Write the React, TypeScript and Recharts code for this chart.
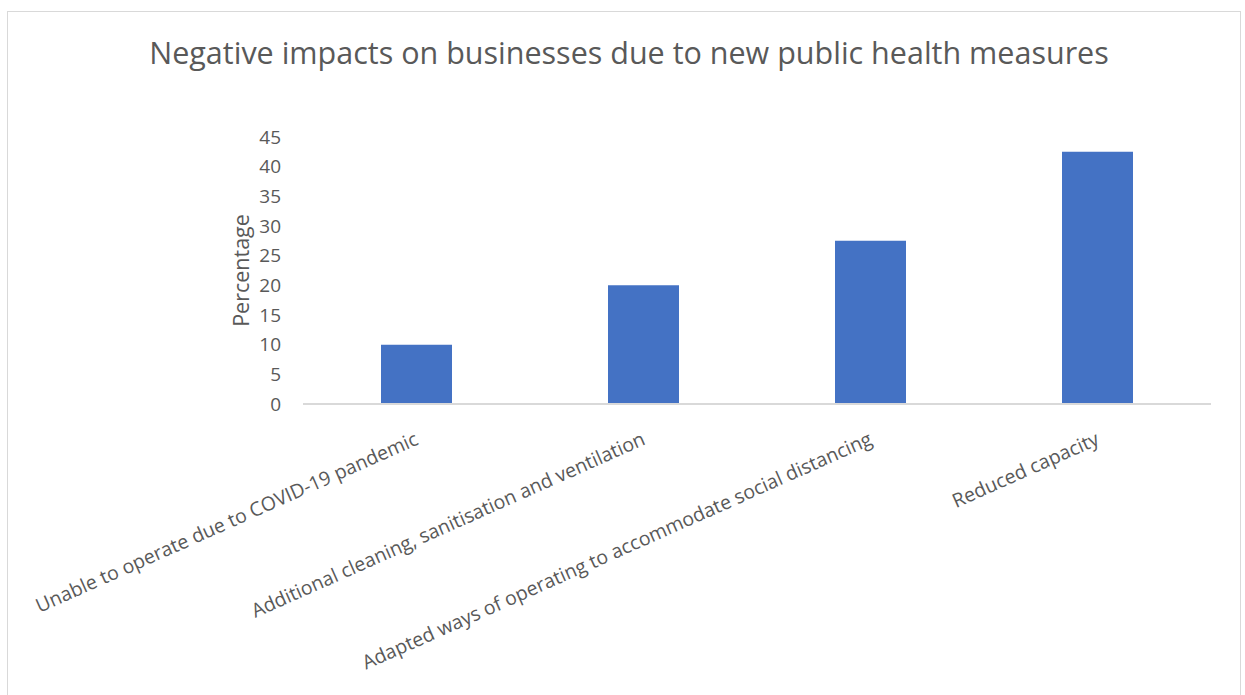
import { BarChart, Bar, XAxis, YAxis } from "recharts";

const categories = [
  "Unable to operate due to COVID-19 pandemic",
  "Additional cleaning, sanitisation and ventilation",
  "Adapted ways of operating to accommodate social distancing",
  "Reduced capacity",
];
const percentages = [10, 20, 27.5, 42.5];
const yTicks = [0, 5, 10, 15, 20, 25, 30, 35, 40, 45];

const data = categories.map((name, i) => ({ name, value: percentages[i] }));

const FONT = "'Open Sans', 'Noto Sans', sans-serif";
const TEXT = "#595959";

const CategoryTick = ({ x, y, payload }: any) => (
  <g transform={`translate(${x},${y + 25})`}>
    <text
      x={0}
      y={0}
      textAnchor="end"
      dominantBaseline="central"
      transform="rotate(-24)"
      fill={TEXT}
      fontSize={19.5}
      fontFamily={FONT}
    >
      {payload.value}
    </text>
  </g>
);

const AxisTitle = ({ viewBox }: any) => {
  const cx = viewBox.x + viewBox.width - 63;
  const cy = viewBox.y + viewBox.height / 2;
  return (
    <text
      x={cx}
      y={cy}
      textAnchor="middle"
      dominantBaseline="central"
      transform={`rotate(-90, ${cx}, ${cy})`}
      fill={TEXT}
      fontSize={21.5}
      fontFamily={FONT}
    >
      Percentage
    </text>
  );
};

export default function App() {
  return (
    <div
      style={{
        position: "fixed",
        left: 0,
        top: 0,
        width: 1245,
        height: 695,
        background: "#fff",
        overflow: "hidden",
      }}
    >
      <div
        style={{
          position: "absolute",
          left: 7,
          top: 11,
          width: 1232,
          height: 700,
          border: "1.5px solid #d9d9d9",
        }}
      />
      <div
        style={{
          position: "absolute",
          top: 31,
          left: 0,
          width: 1258,
          textAlign: "center",
          fontFamily: FONT,
          fontSize: 30.5,
          color: TEXT,
        }}
      >
        Negative impacts on businesses due to new public health measures
      </div>
      <div style={{ position: "absolute", left: 0, top: 0 }}>
        <BarChart
          width={1245}
          height={695}
          data={data}
          margin={{ top: 137, right: 34, left: 0, bottom: 0 }}
        >
          <YAxis
            domain={[0, 45]}
            ticks={yTicks}
            interval={0}
            width={303}
            axisLine={false}
            tickLine={false}
            tickMargin={16}
            tick={{ fill: TEXT, fontSize: 19, fontFamily: FONT }}
            label={<AxisTitle />}
          />
          <XAxis
            dataKey="name"
            height={291}
            interval={0}
            axisLine={{ stroke: "#d9d9d9", strokeWidth: 2 }}
            tickLine={false}
            tick={<CategoryTick />}
          />
          <Bar dataKey="value" fill="#4472C4" barSize={71} isAnimationActive={false} />
        </BarChart>
      </div>
    </div>
  );
}
